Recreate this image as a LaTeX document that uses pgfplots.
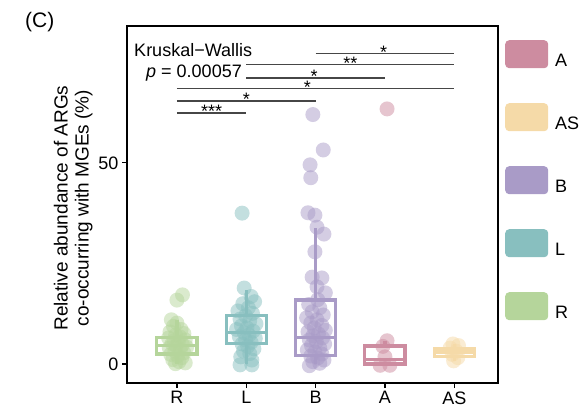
\documentclass[border=0pt]{standalone}
\usepackage{fontspec}
\setmainfont{Liberation Sans}
\setsansfont{Liberation Sans}
\usepackage{pgfplots}
\pgfplotsset{compat=1.18}
\usepgfplotslibrary{statistics}

\definecolor{colA}{RGB}{205,140,160}
\definecolor{colAS}{RGB}{245,218,168}
\definecolor{colB}{RGB}{169,155,199}
\definecolor{colL}{RGB}{136,191,191}
\definecolor{colR}{RGB}{181,213,155}
\definecolor{sig}{RGB}{70,70,70}

\newcommand{\fs}{\fontsize{18}{20}\selectfont}

\begin{document}
\begin{tikzpicture}
\path[use as bounding box] (0pt,0pt) rectangle (588pt,410pt);
\begin{axis}[
  at={(127pt,27pt)}, anchor=south west,
  scale only axis, width=371pt, height=357pt,
  xmin=0.28, xmax=5.63, ymin=-4.7, ymax=84,
  xtick={1,2,3,4,5}, xticklabels={R,L,B,A,AS},
  ytick={0,50},
  tick align=outside, tick pos=left,
  major tick length=5pt,
  axis line style={line width=1.5pt},
  every tick/.style={black, line width=1.3pt},
  tick label style={font=\fs},
  /pgf/number format/assume math mode=true,
  ylabel={Relative abundance of ARGs\\co-occurring with MGEs (\%)},
  ylabel style={align=center, font=\fontsize{19}{21}\selectfont,
    at={(axis description cs:-0.145,0.49)}, anchor=center},
  clip=false,
  legend style={at={(axis description cs:1,1)}, anchor=north west,
    xshift=7pt, yshift=-14pt, draw=none, fill=none, inner sep=0pt,
    row sep=35pt, column sep=7pt, font=\fs, nodes={inner sep=0pt}},
  legend cell align=left,
  legend image code/.code={\fill[#1, rounded corners=4pt] (0pt,-7.5pt) rectangle (43pt,20.5pt);},
]
% legend, in the order of the reference
\addlegendimage{fill=colA, draw=none}\addlegendentry{A}
\addlegendimage{fill=colAS, draw=none}\addlegendentry{AS}
\addlegendimage{fill=colB, draw=none}\addlegendentry{B}
\addlegendimage{fill=colL, draw=none}\addlegendentry{L}
\addlegendimage{fill=colR, draw=none}\addlegendentry{R}

% boxes
\addplot[forget plot, draw=colR, line width=3.2pt, boxplot prepared={draw direction=y, draw position=1, box extend=0.58, whisker extend=0, lower whisker=0, lower quartile=2.5, median=4.6, upper quartile=6.6, upper whisker=11}] coordinates {};
\addplot[forget plot, draw=colL, line width=3.2pt, boxplot prepared={draw direction=y, draw position=2, box extend=0.58, whisker extend=0, lower whisker=0, lower quartile=5.2, median=7.8, upper quartile=12, upper whisker=18.4}] coordinates {};
\addplot[forget plot, draw=colB, line width=3.2pt, boxplot prepared={draw direction=y, draw position=3, box extend=0.58, whisker extend=0, lower whisker=0, lower quartile=2.2, median=6.7, upper quartile=15.9, upper whisker=33.8}] coordinates {};
\addplot[forget plot, draw=colA, line width=3.2pt, boxplot prepared={draw direction=y, draw position=4, box extend=0.58, whisker extend=0, lower whisker=0, lower quartile=0, median=1.2, upper quartile=4.5, upper whisker=5.8}] coordinates {};
\addplot[forget plot, draw=colAS, line width=3.2pt, boxplot prepared={draw direction=y, draw position=5, box extend=0.58, whisker extend=0, lower whisker=0.8, lower quartile=1.8, median=3.0, upper quartile=3.9, upper whisker=5.0}] coordinates {};

% jittered points
\addplot[forget plot, only marks, color=colR, mark=*, mark size=7.5pt, mark options={fill=colR, draw opacity=0, fill opacity=0.5}] coordinates {
  (1.00,15.9)(1.08,17.2)
  (0.92,11.0)(1.00,10.2)(0.95,9.4)(1.06,8.6)(0.90,8.0)(1.10,7.6)(0.98,7.2)
  (1.04,6.8)(0.88,6.5)(1.12,6.0)(0.96,5.8)(1.02,5.5)(0.93,5.1)(1.08,4.8)
  (0.99,4.5)(1.14,4.2)(0.89,4.0)(1.05,3.6)(0.97,3.2)(1.10,2.8)(0.91,2.4)
  (1.01,2.0)(1.07,1.6)(0.94,1.1)(1.03,0.6)(0.98,0.1)(1.12,0.3)
};
\addplot[forget plot, only marks, color=colL, mark=*, mark size=7.5pt, mark options={fill=colL, draw opacity=0, fill opacity=0.5}] coordinates {
  (1.94,37.5)
  (1.97,18.9)(2.07,16.8)(2.12,15.5)(1.95,15.0)(2.03,14.0)(1.88,13.2)(2.09,12.6)
  (1.99,12.0)(1.91,11.2)(2.05,10.8)(2.14,10.0)(1.93,9.5)(2.01,9.0)(1.86,8.6)
  (2.10,8.2)(1.97,7.8)(2.04,7.2)(1.90,6.8)(2.13,6.4)(1.99,6.0)(2.07,5.4)
  (1.94,5.0)(2.02,4.4)(2.11,3.8)(1.96,3.2)(2.05,2.6)(1.92,1.8)(2.08,1.0)
  (1.91,-0.2)(2.08,-0.2)
};
\addplot[forget plot, only marks, color=colB, mark=*, mark size=7.5pt, mark options={fill=colB, draw opacity=0, fill opacity=0.5}] coordinates {
  (2.96,62.0)(3.11,53.2)(2.92,49.5)(2.93,46.3)(2.89,37.6)(2.99,37.0)(3.02,34.0)
  (3.12,32.3)(2.99,27.9)(2.95,21.6)(3.09,21.4)(3.02,19.2)(3.14,17.7)(3.03,16.0)
  (2.90,14.8)(3.06,14.0)(2.95,13.0)(3.11,12.2)(2.87,11.5)(3.02,11.0)(2.93,10.2)
  (3.09,9.6)(2.98,9.0)(3.14,8.4)(2.89,8.0)(3.04,7.5)(2.96,7.0)(3.10,6.5)
  (2.91,6.0)(3.01,5.6)(3.13,5.0)(2.94,4.6)(3.06,4.0)(2.88,3.5)(2.99,3.0)
  (3.09,2.5)(2.93,2.0)(3.03,1.5)(3.12,1.0)(2.96,0.6)(3.06,0.2)(2.91,-0.4)
};
\addplot[forget plot, only marks, color=colA, mark=*, mark size=7.5pt, mark options={fill=colA, draw opacity=0, fill opacity=0.5}] coordinates {
  (4.03,63.4)(4.03,5.8)(3.97,4.4)(4.00,1.8)(3.93,-0.3)(4.07,-0.3)
};
\addplot[forget plot, only marks, color=colAS, mark=*, mark size=7.5pt, mark options={fill=colAS, draw opacity=0, fill opacity=0.5}] coordinates {
  (4.98,5.0)(5.06,4.6)(4.94,4.0)(5.03,3.2)(4.97,2.4)(5.05,1.6)(4.99,0.8)
};

% pairwise comparisons
\pgfplotsset{sg/.style={forget plot, color=sig, line width=1.3pt}}
\addplot[sg] coordinates {(3,77.1)(5,77.1)} node[pos=0.49, anchor=base, yshift=-5pt, black, font=\fs] {*};
\addplot[sg] coordinates {(2,74.4)(5,74.4)} node[pos=0.5, anchor=base, yshift=-5pt, black, font=\fs] {**};
\addplot[sg] coordinates {(2,71.1)(4,71.1)} node[pos=0.49, anchor=base, yshift=-5pt, black, font=\fs] {*};
\addplot[sg] coordinates {(1,68.4)(5,68.4)} node[pos=0.47, anchor=base, yshift=-5pt, black, font=\fs] {*};
\addplot[sg] coordinates {(1,65.4)(3,65.4)} node[pos=0.5, anchor=base, yshift=-5pt, black, font=\fs] {*};
\addplot[sg] coordinates {(1,62.4)(2,62.4)} node[pos=0.5, anchor=base, yshift=-5pt, black, font=\fs] {***};

\node[anchor=west, font=\fs, inner sep=0pt] at (rel axis cs:0.019,0.933) {Kruskal−Wallis};
\node[anchor=east, font=\fs, inner sep=0pt] at (rel axis cs:0.31,0.868) {\textit{p} = 0.00057};
\node[font=\fontsize{21}{23}\selectfont] at (axis description cs:-0.235,1.011) {(C)};
\end{axis}
\end{tikzpicture}
\end{document}
